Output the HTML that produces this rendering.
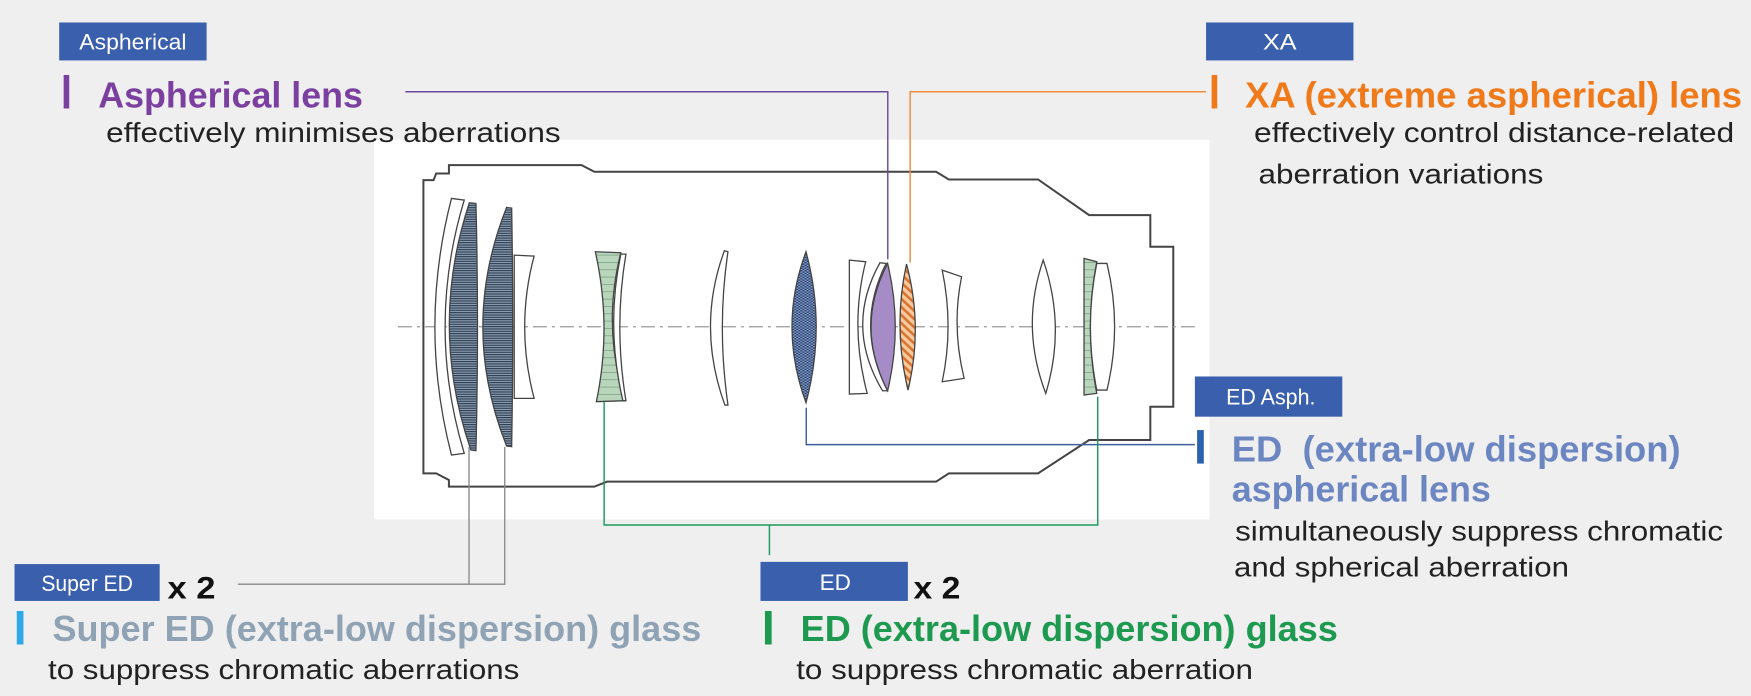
<!DOCTYPE html>
<html><head><meta charset="utf-8"><style>
html,body{margin:0;padding:0;background:#efeff0;overflow:hidden}
svg{display:block}
text{font-family:"Liberation Sans",sans-serif}
</style></head><body>
<svg width="1751" height="696" viewBox="0 0 1568 623" xmlns="http://www.w3.org/2000/svg">
<defs>
<pattern id="hs" width="10" height="7" patternUnits="userSpaceOnUse"><rect width="10" height="7" fill="#8ea0b5"/><rect width="10" height="3.5" fill="#2f3f52"/></pattern>
<pattern id="gr" width="10" height="22" patternUnits="userSpaceOnUse"><rect width="10" height="22" fill="#b9d6bd"/><rect width="10" height="2" fill="#6f9a78"/></pattern>
<pattern id="cx" width="8" height="8" patternUnits="userSpaceOnUse"><rect width="8" height="8" fill="#8fa8cf"/><rect width="4" height="4" fill="#1e3566"/><rect x="4" y="4" width="4" height="4" fill="#1e3566"/></pattern>
<pattern id="or" width="14" height="14" patternUnits="userSpaceOnUse" patternTransform="rotate(-35)"><rect width="14" height="14" fill="#f6c9a0"/><rect width="6" height="14" fill="#d9742e"/></pattern>
</defs>
<rect width="1568" height="623" fill="#efeff0"/>
<rect x="335" y="125" width="748" height="340" fill="#ffffff"/>

<g transform="translate(331.2,116.4) scale(0.4568,0.2984)" fill="none" stroke="#444" stroke-width="1.3">
<path vector-effect="non-scaling-stroke" stroke-width="2" d="M105,150 L125,150 L130,130 L155,130 L155,105 L415,105 L440,125 L1110,125 L1135,148 L1310,148 L1410,255 L1530,255 L1530,350 L1575,350 L1575,830 L1530,830 L1530,930 L1410,930 L1310,1030 L1135,1030 L1110,1055 L465,1055 L440,1070 L155,1070 L155,1050 L130,1030 L105,1030 Z"/>
<line vector-effect="non-scaling-stroke" x1="55" y1="590" x2="1621" y2="590" stroke="#999" stroke-dasharray="14 5 3 5"/>
<path vector-effect="non-scaling-stroke" d="M160,205 L185,210 Q110,590 185,970 L160,975 Q95,590 160,205Z" fill="#fff"/>
<path vector-effect="non-scaling-stroke" d="M195,218 L208,220 Q214,590 208,962 L198,960 Q115,590 195,218Z" fill="url(#hs)"/>
<path vector-effect="non-scaling-stroke" d="M268,232 L278,234 Q282,590 278,950 L268,948 Q175,590 268,232Z" fill="url(#hs)"/>
<path vector-effect="non-scaling-stroke" d="M283,375 L322,378 Q285,590 322,805 L283,805 Z" fill="#fff"/>
<path vector-effect="non-scaling-stroke" d="M442,365 L492,368 Q455,590 500,812 L444,815 Q475,590 442,365Z" fill="url(#gr)"/>
<path vector-effect="non-scaling-stroke" d="M492,372 L502,372 Q478,590 502,812 L496,812 Q462,590 492,372Z" fill="#fff"/>
<path vector-effect="non-scaling-stroke" d="M695,362 L702,365 Q680,590 702,825 L696,825 Q640,590 695,362Z" fill="#fff"/>
<path vector-effect="non-scaling-stroke" d="M855,365 Q895,590 855,818 Q800,590 855,365Z" fill="url(#cx)"/>
<path vector-effect="non-scaling-stroke" d="M940,390 L972,395 Q940,590 975,790 L940,792 Z" fill="#fff"/>
<path vector-effect="non-scaling-stroke" d="M1000,398 L1012,400 Q950,590 1015,782 L1005,782 Q930,590 1000,398Z" fill="#fff"/>
<path vector-effect="non-scaling-stroke" d="M1015,400 Q1045,590 1015,782 Q950,590 1015,400Z" fill="#a68cc7"/>
<path vector-effect="non-scaling-stroke" d="M1052,402 Q1085,590 1055,780 Q1025,590 1052,402Z" fill="url(#or)"/>
<path vector-effect="non-scaling-stroke" d="M1122,420 L1160,440 Q1140,590 1165,745 L1122,755 Q1145,590 1122,420Z" fill="#fff"/>
<path vector-effect="non-scaling-stroke" d="M1320,390 Q1365,590 1325,790 Q1275,590 1320,390Z" fill="#fff"/>
<path vector-effect="non-scaling-stroke" d="M1400,385 L1425,395 Q1400,590 1425,790 L1400,795 Z" fill="url(#gr)"/>
<path vector-effect="non-scaling-stroke" d="M1425,400 L1445,400 Q1475,590 1445,780 L1425,780 Q1400,590 1425,400Z" fill="#fff"/>
</g>

<polyline points="363,82 795,82 795,232" fill="none" stroke="#6a4a9a" stroke-width="1.3"/>
<polyline points="1080,82 815,82 815,235" fill="none" stroke="#f08a40" stroke-width="1.3"/>
<polyline points="722,365 722,398 1070,398" fill="none" stroke="#3f5fa0" stroke-width="1.3"/>
<polyline points="541,360 541,470 983,470 983,355" fill="none" stroke="#1f9a60" stroke-width="1.3"/>
<line x1="689" y1="470" x2="689" y2="497" stroke="#1f9a60" stroke-width="1.3"/>
<polyline points="420,400 420,523" fill="none" stroke="#888" stroke-width="1.2"/>
<polyline points="213,523 452,523 452,400" fill="none" stroke="#888" stroke-width="1.2"/>

<g fill="#fff" font-size="20" text-anchor="middle">
<rect x="53" y="20" width="132" height="34" fill="#3a5fad"/><text x="119" y="44" textLength="96" lengthAdjust="spacingAndGlyphs">Aspherical</text>
<rect x="1080" y="20" width="132" height="34" fill="#3a5fad"/><text x="1146" y="44" textLength="30" lengthAdjust="spacingAndGlyphs">XA</text>
<rect x="1070" y="337" width="132" height="36" fill="#3a5fad"/><text x="1138" y="362" textLength="80" lengthAdjust="spacingAndGlyphs">ED Asph.</text>
<rect x="13" y="505" width="130" height="33" fill="#3a5fad"/><text x="78" y="529" textLength="82" lengthAdjust="spacingAndGlyphs">Super ED</text>
<rect x="681" y="503" width="132" height="35" fill="#3a5fad"/><text x="748" y="528" textLength="28" lengthAdjust="spacingAndGlyphs">ED</text>
</g>
<text x="150" y="536" font-size="28" font-weight="bold" fill="#111" textLength="43" lengthAdjust="spacingAndGlyphs">x 2</text>
<text x="818" y="536" font-size="28" font-weight="bold" fill="#111" textLength="42" lengthAdjust="spacingAndGlyphs">x 2</text>

<rect x="57" y="67" width="5" height="30" fill="#7b3fa0"/>
<rect x="1085" y="67" width="5" height="30" fill="#f07a1a"/>
<rect x="1072" y="385" width="6" height="30" fill="#2a62b0"/>
<rect x="15" y="547" width="6" height="30" fill="#2fa8e8"/>
<rect x="685" y="547" width="6" height="30" fill="#1e9a50"/>

<g font-weight="bold" font-size="32">
<text x="88" y="96" fill="#7b3fa0" textLength="237" lengthAdjust="spacingAndGlyphs">Aspherical lens</text>
<text x="1115" y="96" fill="#f07a1a" textLength="445" lengthAdjust="spacingAndGlyphs">XA (extreme aspherical) lens</text>
<text x="1103" y="413" fill="#6b86c0" textLength="402" lengthAdjust="spacingAndGlyphs" xml:space="preserve">ED  (extra-low dispersion)</text>
<text x="1103" y="449" fill="#6b86c0" textLength="232" lengthAdjust="spacingAndGlyphs">aspherical lens</text>
<text x="47" y="574" fill="#8fa3b5" textLength="581" lengthAdjust="spacingAndGlyphs">Super ED (extra-low dispersion) glass</text>
<text x="717" y="574" fill="#1e9a50" textLength="481" lengthAdjust="spacingAndGlyphs">ED (extra-low dispersion) glass</text>
</g>
<g font-size="25" fill="#222">
<text x="95" y="127" textLength="407" lengthAdjust="spacingAndGlyphs">effectively minimises aberrations</text>
<text x="1123" y="127" textLength="430" lengthAdjust="spacingAndGlyphs">effectively control distance-related</text>
<text x="1127" y="164" textLength="255" lengthAdjust="spacingAndGlyphs">aberration variations</text>
<text x="1106" y="484" textLength="437" lengthAdjust="spacingAndGlyphs">simultaneously suppress chromatic</text>
<text x="1105" y="516" textLength="300" lengthAdjust="spacingAndGlyphs">and spherical aberration</text>
<text x="43" y="608" textLength="422" lengthAdjust="spacingAndGlyphs">to suppress chromatic aberrations</text>
<text x="713" y="608" textLength="409" lengthAdjust="spacingAndGlyphs">to suppress chromatic aberration</text>
</g>
</svg>
</body></html>
